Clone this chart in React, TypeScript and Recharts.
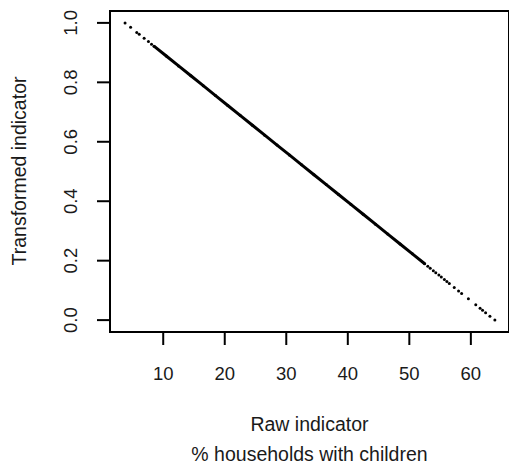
import React from "react";
import { ReferenceArea, Scatter, ScatterChart, XAxis, YAxis } from "recharts";

// raw indicator (% households with children) and its transformed value
const sparseLowRaw = [3.8, 4.7, 5.7, 6.1, 6.9, 7.6, 8.1];
const sparseLowScore = [1.0, 0.985, 0.968, 0.962, 0.948, 0.937, 0.928];

const denseRaw = [
  8.5, 10.5, 12.5, 14.5, 16.5, 18.5, 20.5, 22.5, 24.5, 26.5, 28.5, 30.5, 32.5, 34.5, 36.5, 38.5, 40.5, 42.5,
  44.5, 46.5, 48.5, 50.5, 52.5
];
const denseScore = [
  0.9218, 0.8885, 0.8552, 0.822, 0.7887, 0.7554, 0.7221, 0.6889, 0.6556, 0.6223, 0.589, 0.5557, 0.5225,
  0.4892, 0.4559, 0.4226, 0.3894, 0.3561, 0.3228, 0.2895, 0.2562, 0.223, 0.1897
];

const sparseHighRaw = [
  53.0, 53.4, 53.9, 54.3, 54.8, 55.2, 55.7, 56.1, 56.5, 57.3, 58.0, 58.5, 59.6, 60.8, 61.5, 61.9, 62.4, 63.1, 63.9
];
const sparseHighScore = [
  0.1814, 0.1747, 0.1664, 0.1597, 0.1514, 0.1448, 0.1364, 0.1298, 0.1231, 0.1098, 0.0982, 0.0899, 0.0715,
  0.0516, 0.0399, 0.0333, 0.025, 0.0133, 0.0
];

const xTicks = [10, 20, 30, 40, 50, 60];
const yTicks = [0, 0.2, 0.4, 0.6, 0.8, 1.0];

const xDomain: [number, number] = [1.35, 66.2];
const yDomain: [number, number] = [-0.04, 1.04];

const font = "'Liberation Sans', Arial, sans-serif";
const ink = "#1a1a1a";

const toPoints = (xs: number[], ys: number[]) => xs.map((x, i) => ({ x, y: ys[i] }));

const denseData = toPoints(denseRaw, denseScore);
const dotData = [...toPoints(sparseLowRaw, sparseLowScore), ...toPoints(sparseHighRaw, sparseHighScore)];

function Dot(props: any) {
  if (props.cx == null || props.cy == null) return null;
  return <circle cx={props.cx} cy={props.cy} r={1.5} fill="#000" />;
}

function YTick(props: any) {
  const { x, y, payload } = props;
  const cx = x - 25;
  return (
    <text
      x={cx}
      y={y}
      dy="0.36em"
      textAnchor="middle"
      transform={`rotate(-90, ${cx}, ${y})`}
      fill={ink}
      fontSize={18.5}
      fontFamily={font}
    >
      {Number(payload.value).toFixed(1)}
    </text>
  );
}

export default function App() {
  return (
    <div style={{ position: "absolute", left: 0, top: 0, width: 509, height: 469, background: "#fff" }}>
      <ScatterChart width={509} height={469} margin={{ top: 11, right: 0, bottom: 97, left: 0 }}>
        <XAxis
          type="number"
          dataKey="x"
          domain={xDomain}
          ticks={xTicks}
          allowDataOverflow
          axisLine={false}
          tickLine={{ stroke: "#000", strokeWidth: 2 }}
          tickSize={13}
          tickMargin={22}
          height={40}
          tick={{ fill: ink, fontSize: 18.5, fontFamily: font }}
        />
        <YAxis
          type="number"
          dataKey="y"
          domain={yDomain}
          ticks={yTicks}
          allowDataOverflow
          axisLine={false}
          tickLine={{ stroke: "#000", strokeWidth: 2 }}
          tickSize={13}
          width={110}
          tick={<YTick />}
        />
        <ReferenceArea
          x1={xDomain[0]}
          x2={xDomain[1]}
          y1={yDomain[0]}
          y2={yDomain[1]}
          fill="none"
          stroke="#000"
          strokeWidth={2}
          ifOverflow="visible"
        />
        <Scatter
          data={denseData}
          line={{ stroke: "#000", strokeWidth: 3 }}
          shape={<Dot />}
          isAnimationActive={false}
        />
        <Scatter data={dotData} shape={<Dot />} isAnimationActive={false} />
      </ScatterChart>
      <div
        style={{
          position: "absolute",
          left: 110,
          width: 399,
          top: 410,
          textAlign: "center",
          fontFamily: font,
          fontSize: 19.5,
          lineHeight: "29.5px",
          color: ink
        }}
      >
        <div>Raw indicator</div>
        <div>% households with children</div>
      </div>
      <div
        style={{
          position: "absolute",
          left: 18.5,
          top: 171,
          transform: "translate(-50%, -50%) rotate(-90deg)",
          whiteSpace: "nowrap",
          fontFamily: font,
          fontSize: 19.5,
          color: ink
        }}
      >
        Transformed indicator
      </div>
    </div>
  );
}
